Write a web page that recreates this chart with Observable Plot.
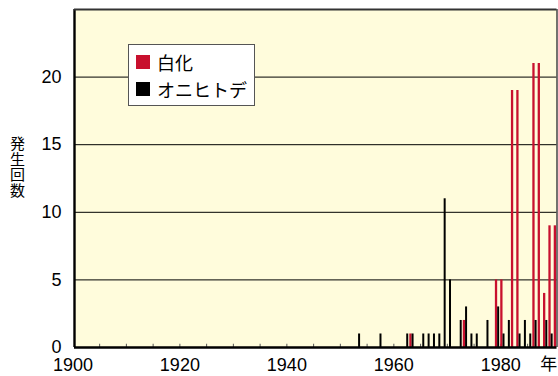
<!DOCTYPE html>
<html>
<head>
<meta charset="utf-8">
<script src="https://cdn.jsdelivr.net/npm/d3@7"></script>
<script src="https://cdn.jsdelivr.net/npm/@observablehq/plot@0.6"></script>
<style>
  html, body { margin: 0; padding: 0; background: #fff; }
  #wrap { position: relative; width: 558px; height: 376px; overflow: hidden; }
  #legend {
    position: absolute; left: 128px; top: 44px; width: 127px; height: 62px;
    background: #fff; border: 1px solid #555; box-sizing: border-box;
    font-family: "Noto Sans CJK JP", sans-serif; font-size: 18px; color: #000;
  }
  .item { position: absolute; left: 7px; display: flex; align-items: center; height: 20px; }
  .sw { width: 14px; height: 14px; margin-right: 7px; }
</style>
</head>
<body>
<div id="wrap"></div>
<script>
// Bleaching (白化) events per year
const bleachYears = [1963, 1973, 1979, 1980, 1982, 1983, 1986, 1987, 1988, 1989, 1990];
const bleachCounts = [1, 2, 5, 5, 19, 19, 21, 21, 4, 9, 9];
// Crown-of-thorns starfish (オニヒトデ) outbreaks per year
const cotsYears = [1953, 1957, 1962, 1963, 1965, 1966, 1967, 1968, 1969, 1970, 1972, 1973, 1974, 1975, 1977, 1979, 1980, 1981, 1983, 1984, 1985, 1986, 1988, 1989];
const cotsCounts = [1, 1, 1, 1, 1, 1, 1, 1, 11, 5, 2, 3, 1, 1, 2, 3, 1, 2, 1, 2, 1, 2, 2, 1];
const seriesNames = ["白化", "オニヒトデ"];
const xTickLabels = [1900, 1920, 1940, 1960, 1980];
const minorTicks = [1905, 1910, 1915, 1920, 1925, 1930, 1935, 1940, 1945, 1950, 1955, 1960, 1965, 1970, 1975, 1980, 1985];
const yTicks = [0, 5, 10, 15, 20];
const gridValues = [5, 10, 15, 20];
const yTitle = "発生回数";
const yearUnit = "年";

const RED = "#c8102e";
const bleach = bleachYears.map((y, i) => ({year: y, count: bleachCounts[i]}));
const cots = cotsYears.map((y, i) => ({year: y, count: cotsCounts[i]}));

const chart = Plot.plot({
  width: 558,
  height: 376,
  marginLeft: 74,
  marginRight: 1.5,
  marginTop: 9,
  marginBottom: 29,
  style: {fontFamily: "'Liberation Sans', Arial, sans-serif", fontSize: "18px", background: "transparent", overflow: "visible"},
  x: {domain: [1900.3, 1990.5], axis: null},
  y: {domain: [0, 25], axis: null},
  marks: [
    Plot.frame({fill: "#fffcdc"}),
    Plot.ruleY(gridValues, {stroke: "#000", strokeWidth: 1}),
    Plot.ruleX(minorTicks, {x: d => d, y1: 0, y2: 0.24, stroke: "#555", strokeWidth: 1}),
    Plot.ruleX(bleach, {x: d => d.year + 0.1, y1: 0, y2: "count", stroke: RED, strokeWidth: 2.3}),
    Plot.ruleX(cots, {x: d => d.year + 0.5, y1: 0, y2: "count", stroke: "#000", strokeWidth: 2}),
    Plot.axisY({ticks: yTicks, tickSize: 0, tickPadding: 13, fontSize: 18, label: null}),
    Plot.text(xTickLabels, {x: d => d, y: 0, dy: 11, lineAnchor: "top", text: d => String(d), fontSize: 18}),
    Plot.text([yearUnit], {x: 1990, y: 0, dy: 10, dx: -5.5, lineAnchor: "top", text: d => d, fontSize: 17, fontFamily: "'Noto Sans CJK JP', sans-serif"}),
    Plot.text([yTitle], {frameAnchor: "left", dx: -57, dy: -22, textAnchor: "middle", lineAnchor: "top", text: d => d, fontSize: 15, fontFamily: "'Noto Sans CJK JP', sans-serif"}),
    Plot.ruleX([1900.3], {stroke: "#000", strokeWidth: 2.4}),
    Plot.ruleX([1990.5], {stroke: "#444", strokeWidth: 1.5}),
    Plot.ruleY([25], {stroke: "#333", strokeWidth: 2}),
    Plot.ruleY([0], {stroke: "#000", strokeWidth: 2.5})
  ]
});

// Set the y-axis title in vertical writing mode
chart.querySelectorAll("text").forEach(t => {
  if (t.textContent === yTitle) {
    t.setAttribute("dy", "0");
    t.style.writingMode = "vertical-rl";
    t.style.textOrientation = "upright";
    t.style.letterSpacing = "0.8px";
  }
});

const wrap = document.getElementById("wrap");
wrap.appendChild(chart);
const legend = document.createElement("div");
legend.id = "legend";
const colors = [RED, "#000"];
seriesNames.forEach((name, i) => {
  const it = document.createElement("div");
  it.className = "item";
  it.style.top = (i === 0 ? 7 : 34) + "px";
  const sw = document.createElement("span");
  sw.className = "sw";
  sw.style.background = colors[i];
  const t = document.createElement("span");
  t.textContent = name;
  it.appendChild(sw);
  it.appendChild(t);
  legend.appendChild(it);
});
wrap.appendChild(legend);
</script>
</body>
</html>
